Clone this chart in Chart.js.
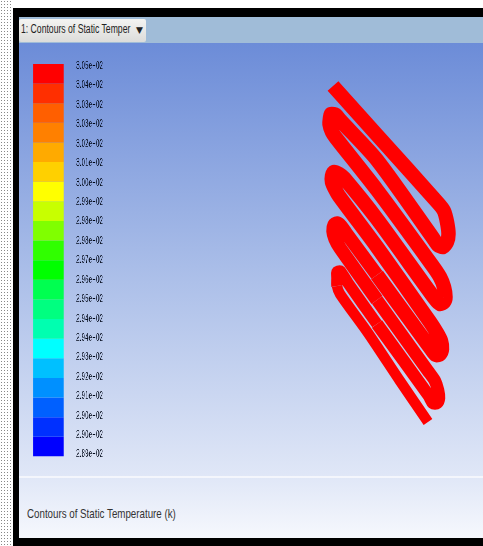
<!DOCTYPE html>
<html lang="en">
<head>
<meta charset="UTF-8">
<title>Contours of Static Temperature</title>
<style>
  html, body { margin: 0; padding: 0; width: 483px; height: 546px; overflow: hidden; background: #fff; }
  #dots { position: absolute; left: 0; top: 0; width: 13px; height: 546px;
    background-image: radial-gradient(#888 0.7px, transparent 0.8px); background-size: 3px 3px; }
  #frame { position: absolute; left: 13px; top: 8px; width: 470px; height: 538px; background: #000; }
  #view { position: absolute; left: 19px; top: 17px; width: 464px; height: 521px;
    background: linear-gradient(#6c8cd8 26px, #a9bde8 250px, #e0e7f7 460px, #f6f8fd 521px); overflow: hidden; }
  #bar { position: absolute; left: 0; top: 0; width: 464px; height: 26px; background: #a0bcd8; }
  #btn { position: absolute; left: 0; top: 2px; width: 127px; height: 23px; box-sizing: border-box;
    background: linear-gradient(#f4f4f2, #dcdcda); border-radius: 2px; color: #222; }
  #btnText { position: absolute; left: 2px; top: 3px; font: 12px "Liberation Sans", sans-serif; white-space: nowrap;
    transform: scaleX(0.72); transform-origin: 0 0; }
  #btnArrow { position: absolute; right: 3px; top: 6px; font: 9px "DejaVu Sans", sans-serif; }
  #rule { position: absolute; left: 0; top: 459px; width: 464px; height: 2px; background: #f4f6fc; }
  #title { position: absolute; left: 8px; top: 489px; font: 13px "Liberation Sans", sans-serif; color: #333; white-space: nowrap;
    transform: scaleX(0.75); transform-origin: 0 0; }
  #legendBox { position: absolute; left: 26.6px; top: 0; transform: scaleX(0.58); transform-origin: 0 0; }
  #coilBox { position: absolute; left: 0; top: 0; }
  canvas { display: block; }
  #wrap { filter: blur(0.6px); }
</style>
</head>
<body>
<div id="wrap">
  <div id="dots"></div>
  <div id="frame"></div>
  <div id="view">
    <div id="bar"><div id="btn"><div id="btnText">1: Contours of Static Temper</div><div id="btnArrow">&#9660;</div></div></div>
    <div id="rule"></div>
    <div id="title">Contours of Static Temperature (k)</div>
  </div>
  <div id="coilBox"><canvas id="coil" width="483" height="546"></canvas></div>
  <div id="legendBox"><canvas id="legend" width="142" height="474"></canvas></div>
</div>
<script src="https://cdn.jsdelivr.net/npm/chart.js"></script>
<script>
// legend labels, top to bottom
const tickLabels = ["3.05e+02","3.04e+02","3.03e+02","3.03e+02","3.02e+02","3.01e+02","3.00e+02",
  "2.99e+02","2.98e+02","2.98e+02","2.97e+02","2.96e+02","2.95e+02","2.94e+02","2.94e+02",
  "2.93e+02","2.92e+02","2.91e+02","2.90e+02","2.90e+02","2.89e+02"];
// colour bands, top to bottom
const bandColors = ["#ff0000","#ff2f00","#ff5f00","#ff8000","#ffaa00","#ffd000","#ffff00",
  "#c8ff00","#80ff00","#30ff00","#00ff00","#00ff50","#00ff80","#00ffb0","#00ffff",
  "#00c0ff","#0090ff","#0060ff","#0030ff","#0000ff"];
// coil centre line, one row per run down and back
const coilX = [333,377,438,444,447,448.5,447,443,438,433, 377,340,336,331,330,329.5,332,336,
  377,432,440,444,445.5,444,440,435, 377,344,339,334,332,332,335,339,
  377,430,437,441,442,440,436,431, 377,346,341,337,334,333,335,340,
  377,428,435,438,439,437,433,429, 377,348,343,340,337,337,337,340,
  368,400,428];
const coilY = [86,135,203,211,222,234,242,247,245,238, 160,120,115,114,118,124,132,138,
  190,265,277,287,297,302,304,299, 219,178,174,172,176,182,189,196,
  247,322,333,341,349,354,355,349, 275,233,226,223,225,231,239,248,
  300,371,381,390,398,403,403,396, 324,283,275,271,272,278,286,294,
  333,381,422];
// the strip gets thinner towards its far end
const widthFromPoint = [0, 42, 50, 58, 64];
const stripWidths = [14.5, 13.5, 12.5, 11.5, 10.5];

function stripWidth(ctx) {
  let w = stripWidths[0];
  widthFromPoint.forEach((start, i) => { if (ctx.p0DataIndex >= start) w = stripWidths[i]; });
  return w;
}

new Chart(document.getElementById("coil"), {
  type: "scatter",
  data: { datasets: [{
    data: coilX.map((x, i) => ({ x: x, y: coilY[i] })),
    showLine: true, borderColor: "#ff0000", borderWidth: 14.5, pointRadius: 0,
    borderJoinStyle: "round", borderCapStyle: "butt", tension: 0.25,
    segment: { borderWidth: stripWidth }
  }] },
  options: {
    responsive: false, animation: false, devicePixelRatio: 1, layout: { padding: 0 },
    plugins: { legend: { display: false }, tooltip: { enabled: false } },
    scales: {
      x: { type: "linear", min: 0, max: 483, display: false },
      y: { type: "linear", min: 0, max: 546, reverse: true, display: false }
    }
  }
});

new Chart(document.getElementById("legend"), {
  type: "bar",
  data: {
    labels: ["T"],
    datasets: bandColors.map((c, i) => ({
      data: [[20 - i - 1, 20 - i]], backgroundColor: c, borderWidth: 0,
      barPercentage: 0.7, categoryPercentage: 1, grouped: false
    }))
  },
  options: {
    responsive: false, animation: false, devicePixelRatio: 1,
    layout: { padding: { left: 0, top: 64, bottom: 12, right: 0 } },
    plugins: { legend: { display: false }, tooltip: { enabled: false } },
    scales: {
      x: { display: false },
      y: {
        position: "right", min: 0, max: 20, grid: { display: false, drawTicks: false }, border: { display: false },
        // labels sit slightly inside the colour bar ends
        afterBuildTicks: (axis) => { axis.ticks = tickLabels.map((t, i) => ({ value: 19.9 - i * 0.99 })); },
        ticks: {
          autoSkip: false, padding: 11, color: "#000818",
          font: { size: 11, family: "'Liberation Sans'" },
          callback: (v, i) => tickLabels[i]
        }
      }
    }
  }
});
</script>
</body>
</html>
